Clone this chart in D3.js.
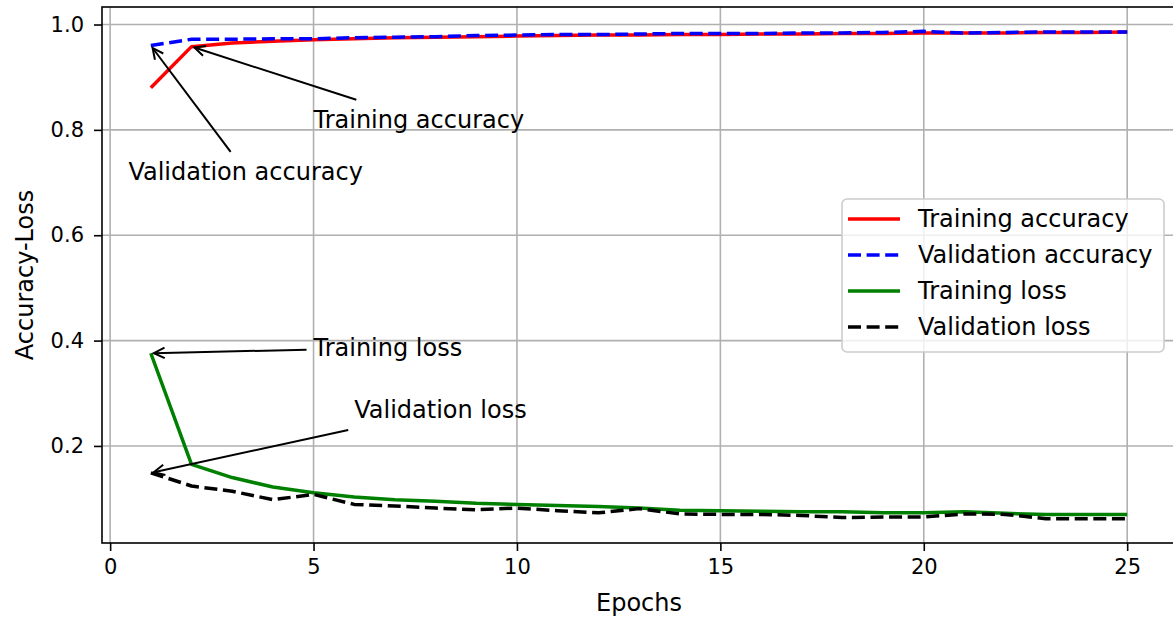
<!DOCTYPE html>
<html>
  <head>
    <script src="https://cdn.jsdelivr.net/npm/d3@7"></script>
    <style>
      body { margin: 0; background: #fff; }
      svg { display: block; font-family: 'DejaVu Sans', sans-serif; }
    </style>
  </head>
  <body>
    <div id="chart"></div>

    <script>
      // ========= Data ========= //
      const epochs = d3.range(1, 26);

      const trainAcc = [0.880, 0.958, 0.965, 0.968, 0.971, 0.973, 0.975, 0.976, 0.977, 0.978,
                        0.979, 0.980, 0.980, 0.981, 0.981, 0.982, 0.982, 0.983, 0.983, 0.984,
                        0.984, 0.984, 0.985, 0.985, 0.986];
      const valAcc = [0.960, 0.972, 0.972, 0.973, 0.973, 0.975, 0.976, 0.977, 0.979, 0.980,
                      0.981, 0.981, 0.982, 0.983, 0.983, 0.983, 0.984, 0.984, 0.985, 0.987,
                      0.984, 0.985, 0.986, 0.986, 0.986];
      const trainLoss = [0.376, 0.165, 0.140, 0.122, 0.111, 0.103, 0.098, 0.095, 0.091, 0.089,
                         0.087, 0.085, 0.082, 0.078, 0.077, 0.076, 0.075, 0.075, 0.073, 0.073,
                         0.075, 0.072, 0.070, 0.070, 0.070];
      const valLoss = [0.149, 0.124, 0.114, 0.098, 0.108, 0.089, 0.086, 0.082, 0.079, 0.082,
                       0.077, 0.073, 0.081, 0.071, 0.070, 0.070, 0.068, 0.064, 0.065, 0.065,
                       0.071, 0.070, 0.062, 0.062, 0.062];

      const xTicks = [0, 5, 10, 15, 20, 25];
      const yTicks = [0.2, 0.4, 0.6, 0.8, 1.0];

      const series = [
        { name: 'Training accuracy', values: trainAcc, color: '#ff0000', dash: null },
        { name: 'Validation accuracy', values: valAcc, color: '#0000ff', dash: '13,5.6' },
        { name: 'Training loss', values: trainLoss, color: '#008000', dash: null },
        { name: 'Validation loss', values: valLoss, color: '#000000', dash: '13,5.6' }
      ];

      // text position (data coords, left/baseline) and arrow target
      const notes = [
        { label: 'Validation accuracy', tx: 0.45, ty: 0.705, px: 1, py: valAcc[0] },
        { label: 'Training accuracy', tx: 5, ty: 0.804, px: 2, py: trainAcc[1] },
        { label: 'Training loss', tx: 5, ty: 0.371, px: 1, py: trainLoss[0] },
        { label: 'Validation loss', tx: 6, ty: 0.253, px: 1, py: valLoss[0] }
      ];

      // ========= Dimensions ========= //
      const width = 1173;
      const height = 621;
      const plot = { left: 102, right: 1176, top: 7, bottom: 543 };
      const fontBig = 24;
      const fontTick = 21;

      // ========= Scales (matplotlib-like 5% margins) ========= //
      const xMin = d3.min(epochs), xMax = d3.max(epochs);
      const xPad = (xMax - xMin) * 0.05;
      const x = d3.scaleLinear()
        .domain([xMin - xPad, xMax + xPad])
        .range([plot.left, plot.right]);

      const allY = series.flatMap(s => s.values);
      const yMin = d3.min(allY), yMax = d3.max(allY);
      const yPad = (yMax - yMin) * 0.05;
      const y = d3.scaleLinear()
        .domain([yMin - yPad, yMax + yPad])
        .range([plot.bottom, plot.top]);

      // ========= SVG ========= //
      const svg = d3.select('#chart').append('svg')
        .attr('width', width)
        .attr('height', height);

      svg.append('defs').append('clipPath')
        .attr('id', 'plot-clip')
        .append('rect')
          .attr('x', plot.left)
          .attr('y', plot.top)
          .attr('width', plot.right - plot.left)
          .attr('height', plot.bottom - plot.top);

      // ========= Grid ========= //
      const grid = svg.append('g')
        .attr('stroke', '#b0b0b0')
        .attr('stroke-width', 1.6);

      grid.selectAll('.gx').data(xTicks).join('line')
        .attr('x1', d => x(d)).attr('x2', d => x(d))
        .attr('y1', plot.top).attr('y2', plot.bottom);

      grid.selectAll('.gy').data(yTicks).join('line')
        .attr('x1', plot.left).attr('x2', plot.right)
        .attr('y1', d => y(d)).attr('y2', d => y(d));

      // ========= Axes ========= //
      const xAxis = svg.append('g')
        .attr('transform', `translate(0,${plot.bottom})`)
        .call(d3.axisBottom(x).tickValues(xTicks).tickSize(8).tickPadding(8).tickFormat(d3.format('d')));

      const yAxis = svg.append('g')
        .attr('transform', `translate(${plot.left},0)`)
        .call(d3.axisLeft(y).tickValues(yTicks).tickSize(8).tickPadding(10).tickFormat(d3.format('.1f')));

      [xAxis, yAxis].forEach(ax => {
        ax.select('.domain').remove();
        ax.selectAll('line').attr('stroke', '#000').attr('stroke-width', 1.6);
        ax.selectAll('text')
          .attr('font-size', fontTick)
          .attr('font-family', 'DejaVu Sans')
          .attr('fill', '#000');
      });

      // ========= Lines ========= //
      const line = d3.line()
        .x((d, i) => x(epochs[i]))
        .y(d => y(d));

      svg.append('g')
        .attr('clip-path', 'url(#plot-clip)')
        .selectAll('path').data(series).join('path')
          .attr('d', d => line(d.values))
          .attr('fill', 'none')
          .attr('stroke', d => d.color)
          .attr('stroke-width', 3.5)
          .attr('stroke-dasharray', d => d.dash)
          .attr('stroke-linejoin', 'round');

      // ========= Spines ========= //
      svg.append('rect')
        .attr('x', plot.left)
        .attr('y', plot.top)
        .attr('width', plot.right - plot.left)
        .attr('height', plot.bottom - plot.top)
        .attr('fill', 'none')
        .attr('stroke', '#000')
        .attr('stroke-width', 1.6);

      // ========= Axis labels ========= //
      svg.append('text')
        .attr('x', (plot.left + plot.right) / 2)
        .attr('y', 611)
        .attr('text-anchor', 'middle')
        .attr('font-size', fontBig)
        .text('Epochs');

      svg.append('text')
        .attr('transform', `translate(33,${(plot.top + plot.bottom) / 2}) rotate(-90)`)
        .attr('text-anchor', 'middle')
        .attr('font-size', fontBig)
        .text('Accuracy-Loss');

      // ========= Annotations ========= //
      const noteGroup = svg.append('g');

      notes.forEach(n => {
        const t = noteGroup.append('text')
          .attr('x', x(n.tx))
          .attr('y', y(n.ty))
          .attr('font-size', fontBig)
          .text(n.label);

        const b = t.node().getBBox();
        const pad = 6;
        const cx = b.x + b.width / 2, cy = b.y + b.height / 2;
        const tx = x(n.px), ty = y(n.py);
        const dx = tx - cx, dy = ty - cy;
        // clip start to padded text box
        const hw = b.width / 2 + pad, hh = b.height / 2 + pad;
        const s = Math.min(hw / Math.abs(dx || 1e-9), hh / Math.abs(dy || 1e-9));
        const sx = cx + dx * s, sy = cy + dy * s;
        const len = Math.hypot(tx - sx, ty - sy);
        const ux = (tx - sx) / len, uy = (ty - sy) / len;
        const ex = tx - ux * 3, ey = ty - uy * 3;

        noteGroup.append('line')
          .attr('x1', sx).attr('y1', sy)
          .attr('x2', ex).attr('y2', ey)
          .attr('stroke', '#000')
          .attr('stroke-width', 2);

        const head = 12, spread = 0.45;
        const ang = Math.atan2(-uy, -ux);
        const p1 = [ex + head * Math.cos(ang + spread), ey + head * Math.sin(ang + spread)];
        const p2 = [ex + head * Math.cos(ang - spread), ey + head * Math.sin(ang - spread)];
        noteGroup.append('path')
          .attr('d', `M${p1[0]},${p1[1]}L${ex},${ey}L${p2[0]},${p2[1]}`)
          .attr('fill', 'none')
          .attr('stroke', '#000')
          .attr('stroke-width', 2);
      });

      // ========= Legend ========= //
      const legend = svg.append('g')
        .attr('transform', 'translate(842,199)');

      legend.append('rect')
        .attr('width', 322)
        .attr('height', 153)
        .attr('rx', 5)
        .attr('fill', 'rgba(255,255,255,0.8)')
        .attr('stroke', '#cccccc')
        .attr('stroke-width', 1.6);

      const item = legend.selectAll('.item').data(series).join('g')
        .attr('transform', (d, i) => `translate(0,${20 + i * 36})`);

      item.append('line')
        .attr('x1', 6).attr('x2', 58)
        .attr('stroke', d => d.color)
        .attr('stroke-width', 3.5)
        .attr('stroke-dasharray', d => d.dash);

      item.append('text')
        .attr('x', 76)
        .attr('dy', '0.35em')
        .attr('font-size', fontBig)
        .text(d => d.name);
    </script>
  </body>
</html>
